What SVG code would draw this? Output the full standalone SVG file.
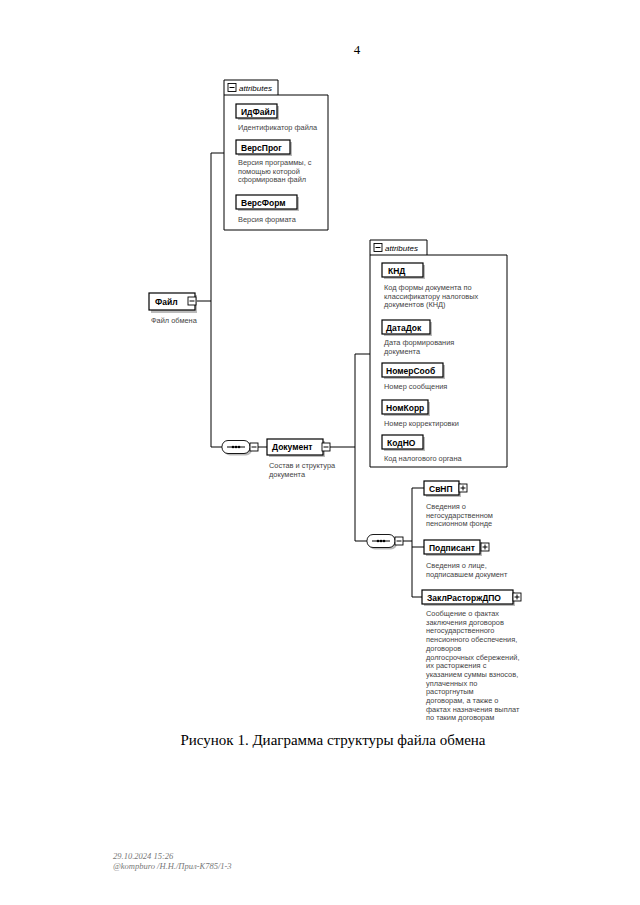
<svg xmlns="http://www.w3.org/2000/svg" width="640" height="905" viewBox="0 0 640 905">
<style>
.bg{fill:#fff}
.box{fill:#fff;stroke:#000;stroke-width:1.2}
.sh{fill:#bbb}
.lbl{font-family:"Liberation Sans",Arial,sans-serif;font-weight:bold;font-size:8.5px;fill:#000}
.desc{font-family:"Liberation Sans",Arial,sans-serif;font-size:7.4px;fill:#444}
.att{fill:none;stroke:#000;stroke-width:1}
.tab{font-family:"Liberation Sans",Arial,sans-serif;font-style:italic;font-size:8px;fill:#000}
.ln{fill:none;stroke:#000;stroke-width:1}
.ic{fill:#fff;stroke:#000;stroke-width:0.9}
.cap{font-family:"Liberation Serif","Times New Roman",serif;font-size:15px;fill:#000}
.ft{font-family:"Liberation Serif","Times New Roman",serif;font-style:italic;font-size:8.5px;fill:#777}
</style>
<defs>
<g id="minus"><rect class="ic" x="0" y="0" width="8" height="8"/><line class="ln" x1="1.5" y1="4" x2="6.5" y2="4"/></g>
<g id="plus"><rect class="ic" x="0" y="0" width="8" height="8"/><line class="ln" x1="1.5" y1="4" x2="6.5" y2="4"/><line class="ln" x1="4" y1="1.5" x2="4" y2="6.5"/></g>
<g id="seq"><rect class="sh" x="2" y="2" width="28" height="13" rx="6"/><rect class="ic" x="0" y="0" width="28" height="13" rx="6"/><line class="ln" x1="5" y1="6.5" x2="23" y2="6.5"/><circle cx="11" cy="6.5" r="1.3"/><circle cx="14" cy="6.5" r="1.3"/><circle cx="17" cy="6.5" r="1.3"/></g>
</defs>
<rect class="bg" x="0" y="0" width="640" height="905"/>
<text x="357" y="54" style="font-family:'Liberation Serif',serif;font-size:13px" text-anchor="middle">4</text>

<g id="connectors">
<polyline class="ln" points="224,153 211,153 211,447 222,447"/>
<line class="ln" x1="197" y1="301" x2="211" y2="301"/>
<line class="ln" x1="258" y1="447" x2="267" y2="447"/>
<polyline class="ln" points="370,354 355,354 355,541 367,541"/>
<line class="ln" x1="330" y1="447" x2="355" y2="447"/>
<line class="ln" x1="403" y1="541" x2="412" y2="541"/>
<polyline class="ln" points="424,488 412,488 412,597 422,597"/>
<line class="ln" x1="412" y1="547" x2="424" y2="547"/>
</g>

<g id="attributes1">
<path class="att" d="M224,80 H278 V95 H328 V230 H224 Z"/>
<line class="att" x1="224" y1="95" x2="278" y2="95"/>
<use href="#minus" x="228" y="83.5"/>
<text class="tab" x="239" y="91">attributes</text>
</g>
<g id="n-idfile">
<rect class="sh" x="238" y="106" width="41" height="14"/>
<rect class="box" x="236" y="104" width="41" height="14"/>
<text class="lbl" x="241" y="114.5">ИдФайл</text>
<text class="desc" x="238" y="130">Идентификатор файла</text>
</g>
<g id="n-versprog">
<rect class="sh" x="238" y="142" width="54" height="14"/>
<rect class="box" x="236" y="140" width="54" height="14"/>
<text class="lbl" x="241" y="150.5">ВерсПрог</text>
<text class="desc" x="238" y="165">Версия программы, с</text>
<text class="desc" x="238" y="173.5">помощью которой</text>
<text class="desc" x="238" y="182">сформирован файл</text>
</g>
<g id="n-versform">
<rect class="sh" x="238" y="197" width="61" height="14"/>
<rect class="box" x="236" y="195" width="61" height="14"/>
<text class="lbl" x="241" y="205.5">ВерсФорм</text>
<text class="desc" x="238" y="222">Версия формата</text>
</g>

<g id="n-file">
<rect class="sh" x="151" y="295" width="46" height="18"/>
<rect class="box" x="149" y="293" width="46" height="17"/>
<text class="lbl" x="155" y="304.5">Файл</text>
<use href="#minus" x="188" y="297"/>
<text class="desc" x="151" y="323">Файл обмена</text>
</g>

<g id="seq1">
<use href="#seq" x="222" y="440.5"/>
<use href="#minus" x="250" y="443"/>
</g>

<g id="n-doc">
<rect class="sh" x="269" y="441" width="56" height="16"/>
<rect class="box" x="267" y="439" width="56" height="16"/>
<text class="lbl" x="272" y="450">Документ</text>
<use href="#minus" x="322" y="443"/>
<text class="desc" x="269" y="468">Состав и структура</text>
<text class="desc" x="269" y="477">документа</text>
</g>

<g id="attributes2">
<path class="att" d="M370,240 H427 V255 H507 V467 H370 Z"/>
<line class="att" x1="370" y1="255" x2="427" y2="255"/>
<use href="#minus" x="374" y="243.5"/>
<text class="tab" x="385" y="251">attributes</text>
</g>
<g id="n-knd">
<rect class="sh" x="384" y="265" width="41" height="14"/>
<rect class="box" x="382" y="263" width="41" height="14"/>
<text class="lbl" x="388" y="273.5">КНД</text>
<text class="desc" x="384" y="290">Код формы документа по</text>
<text class="desc" x="384" y="298.5">классификатору налоговых</text>
<text class="desc" x="384" y="307">документов (КНД)</text>
</g>
<g id="n-datadok">
<rect class="sh" x="384" y="322" width="48" height="14"/>
<rect class="box" x="382" y="320" width="48" height="14"/>
<text class="lbl" x="386" y="330.5">ДатаДок</text>
<text class="desc" x="384" y="345">Дата формирования</text>
<text class="desc" x="384" y="353.5">документа</text>
</g>
<g id="n-nomersoob">
<rect class="sh" x="384" y="365" width="61" height="14"/>
<rect class="box" x="382" y="363" width="61" height="14"/>
<text class="lbl" x="386" y="373.5">НомерСооб</text>
<text class="desc" x="384" y="389">Номер сообщения</text>
</g>
<g id="n-nomkorr">
<rect class="sh" x="384" y="402" width="46" height="14"/>
<rect class="box" x="382" y="400" width="46" height="14"/>
<text class="lbl" x="386" y="410.5">НомКорр</text>
<text class="desc" x="384" y="426">Номер корректировки</text>
</g>
<g id="n-kodno">
<rect class="sh" x="384" y="437" width="41" height="14"/>
<rect class="box" x="382" y="435" width="41" height="14"/>
<text class="lbl" x="387" y="445.5">КодНО</text>
<text class="desc" x="384" y="461">Код налогового органа</text>
</g>

<g id="seq2">
<use href="#seq" x="367" y="534.5"/>
<use href="#minus" x="395" y="537"/>
</g>

<g id="n-svnp">
<rect class="sh" x="426" y="483" width="35" height="14"/>
<rect class="box" x="424" y="481" width="35" height="14"/>
<text class="lbl" x="429" y="491.5">СвНП</text>
<use href="#plus" x="459" y="484"/>
<text class="desc" x="426" y="509">Сведения о</text>
<text class="desc" x="426" y="517.5">негосударственном</text>
<text class="desc" x="426" y="526">пенсионном фонде</text>
</g>
<g id="n-podpisant">
<rect class="sh" x="426" y="542" width="56" height="14"/>
<rect class="box" x="424" y="540" width="56" height="14"/>
<text class="lbl" x="429" y="550.5">Подписант</text>
<use href="#plus" x="481" y="543"/>
<text class="desc" x="426" y="568">Сведения о лице,</text>
<text class="desc" x="426" y="576.5">подписавшем документ</text>
</g>
<g id="n-zakl">
<rect class="sh" x="424" y="592" width="91" height="14"/>
<rect class="box" x="422" y="590" width="91" height="14"/>
<text class="lbl" x="427" y="600.5">ЗаклРасторжДПО</text>
<use href="#plus" x="513" y="593"/>
<text class="desc" x="426" y="616">Сообщение о фактах</text>
<text class="desc" x="426" y="624.7">заключения договоров</text>
<text class="desc" x="426" y="633.4">негосударственного</text>
<text class="desc" x="426" y="642.1">пенсионного обеспечения,</text>
<text class="desc" x="426" y="650.8">договоров</text>
<text class="desc" x="426" y="659.5">долгосрочных сбережений,</text>
<text class="desc" x="426" y="668.2">их расторжения с</text>
<text class="desc" x="426" y="676.9">указанием суммы взносов,</text>
<text class="desc" x="426" y="685.6">уплаченных по</text>
<text class="desc" x="426" y="694.3">расторгнутым</text>
<text class="desc" x="426" y="703">договорам, а также о</text>
<text class="desc" x="426" y="711.7">фактах назначения выплат</text>
<text class="desc" x="426" y="720.4">по таким договорам</text>
</g>

<text class="cap" x="333" y="745" text-anchor="middle">Рисунок 1. Диаграмма структуры файла обмена</text>
<text class="ft" x="113" y="859">29.10.2024 15:26</text>
<text class="ft" x="113" y="869">@kompburo /Н.Н./Прил-К785/1-3</text>
</svg>
